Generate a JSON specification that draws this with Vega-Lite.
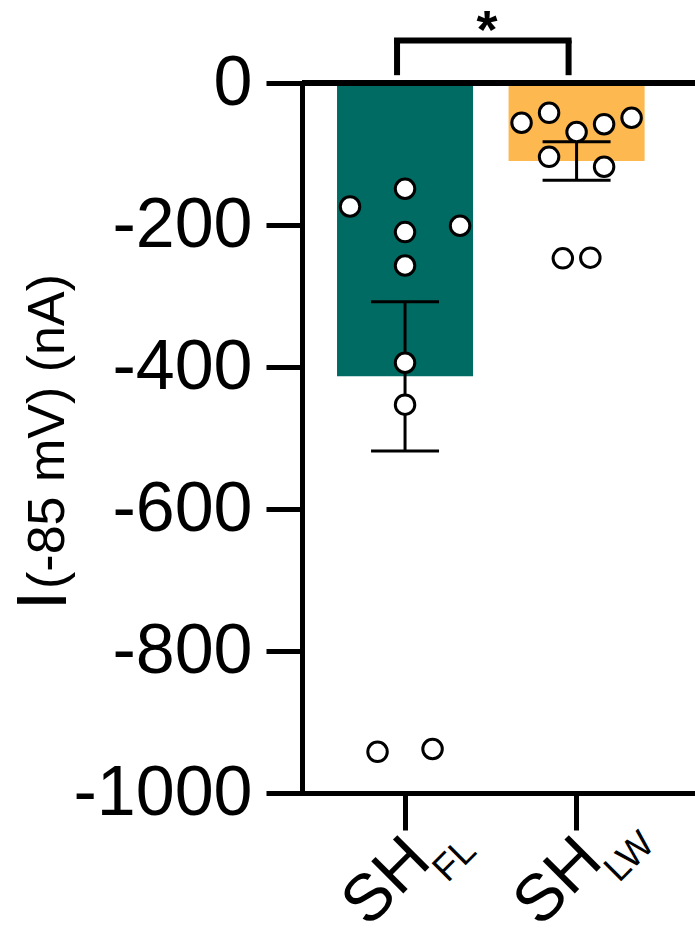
{
  "$schema": "https://vega.github.io/schema/vega-lite/v6.json",
  "width": 393,
  "height": 710,
  "autosize": {"type": "none"},
  "padding": {"left": 302, "top": 83, "right": 0, "bottom": 146},
  "background": "white",
  "datasets": {
    "cells": [
      {"group": "SH_FL", "value": -174, "slot": -2},
      {"group": "SH_FL", "value": -149, "slot": 0},
      {"group": "SH_FL", "value": -210, "slot": 0},
      {"group": "SH_FL", "value": -201, "slot": 2},
      {"group": "SH_FL", "value": -257, "slot": 0},
      {"group": "SH_FL", "value": -394, "slot": 0},
      {"group": "SH_FL", "value": -453, "slot": 0},
      {"group": "SH_FL", "value": -942, "slot": -1},
      {"group": "SH_FL", "value": -938, "slot": 1},
      {"group": "SH_LW", "value": -56, "slot": -2},
      {"group": "SH_LW", "value": -42, "slot": -1},
      {"group": "SH_LW", "value": -69, "slot": 0},
      {"group": "SH_LW", "value": -58, "slot": 1},
      {"group": "SH_LW", "value": -49, "slot": 2},
      {"group": "SH_LW", "value": -104, "slot": -1},
      {"group": "SH_LW", "value": -118, "slot": 1},
      {"group": "SH_LW", "value": -247, "slot": -0.5},
      {"group": "SH_LW", "value": -246, "slot": 0.5}
    ],
    "subs": [
      {"group": "SH_FL", "sub": "FL"},
      {"group": "SH_LW", "sub": "LW"}
    ],
    "notes": [
      {"star": "*", "ylab": "I"}
    ]
  },
  "config": {
    "font": "Liberation Sans",
    "view": {"stroke": null},
    "axis": {
      "grid": false,
      "domainColor": "black",
      "domainWidth": 5,
      "domainCap": "square",
      "tickColor": "black",
      "tickWidth": 5,
      "labelColor": "black",
      "titleColor": "black",
      "labelFont": "Liberation Sans",
      "titleFont": "Liberation Sans",
      "labelLimit": 0
    }
  },
  "resolve": {"scale": {"xOffset": "independent"}},
  "layer": [
    {
      "data": {"name": "cells"},
      "mark": {"type": "bar", "width": {"band": 1}},
      "encoding": {
        "x": {
          "field": "group",
          "type": "nominal",
          "sort": ["SH_FL", "SH_LW"],
          "scale": {"domain": ["SH_FL", "SH_LW"], "paddingInner": 0.207, "paddingOuter": 0.249, "align": 0.41},
          "axis": {
            "title": null,
            "labelExpr": "'SH'",
            "labelAngle": -45,
            "labelAlign": "right",
            "labelBaseline": "middle",
            "labelFontSize": 66,
            "labelPadding": 19,
            "labelOffset": 14,
            "tickSize": 37
          }
        },
        "y": {
          "aggregate": "mean",
          "field": "value",
          "type": "quantitative",
          "scale": {"domain": [-1000, 0], "nice": false, "zero": false},
          "axis": {
            "title": "(-85 mV) (nA)",
            "values": [-1000, -800, -600, -400, -200, 0],
            "labelExpr": "datum.value == 0 ? '0' : '-' + format(-datum.value, 'd')",
            "labelFontSize": 70,
            "tickSize": 36,
            "labelPadding": 14,
            "titleFontSize": 52,
            "titleFontWeight": "normal",
            "titlePadding": 28,
            "titleY": 348
          }
        },
        "color": {
          "field": "group",
          "type": "nominal",
          "scale": {"domain": ["SH_FL", "SH_LW"], "range": ["#006B63", "#FDB94F"]},
          "legend": null
        }
      }
    },
    {
      "data": {"name": "cells"},
      "mark": {"type": "errorbar", "extent": "stderr", "color": "black", "ticks": {"size": 68, "thickness": 3, "color": "black", "opacity": 1}, "rule": {"strokeWidth": 3, "color": "black", "opacity": 1}},
      "encoding": {
        "x": {"field": "group", "type": "nominal", "title": null},
        "y": {"field": "value", "type": "quantitative", "title": "(-85 mV) (nA)"}
      }
    },
    {
      "data": {"name": "cells"},
      "mark": {"type": "rule", "strokeWidth": 6, "color": "black"},
      "encoding": {
        "y": {"datum": 0, "type": "quantitative"}
      }
    },
    {
      "data": {"name": "cells"},
      "mark": {"type": "circle", "size": 380, "color": "white", "opacity": 1, "stroke": "black", "strokeWidth": 3},
      "encoding": {
        "x": {"field": "group", "type": "nominal", "title": null},
        "xOffset": {"field": "slot", "type": "quantitative", "scale": {"domain": [-2.4727, 2.4727]}},
        "y": {"field": "value", "type": "quantitative", "title": "(-85 mV) (nA)"}
      }
    },
    {
      "data": {"name": "notes"},
      "mark": {"type": "rule", "strokeWidth": 6, "color": "black", "strokeCap": "square", "xOffset": -8, "x2Offset": -8},
      "encoding": {
        "x": {"datum": "SH_FL", "type": "nominal"},
        "x2": {"datum": "SH_LW"},
        "y": {"datum": 60, "type": "quantitative"}
      }
    },
    {
      "data": {"name": "subs"},
      "mark": {"type": "rule", "strokeWidth": 6, "color": "black", "xOffset": -8},
      "encoding": {
        "x": {"field": "group", "type": "nominal", "title": null},
        "y": {"datum": 60, "type": "quantitative"},
        "y2": {"datum": 11}
      }
    },
    {
      "data": {"name": "notes"},
      "mark": {"type": "text", "fontSize": 54, "fontWeight": "bold", "color": "black", "dx": 82, "align": "center", "baseline": "alphabetic"},
      "encoding": {
        "x": {"datum": "SH_FL", "type": "nominal"},
        "y": {"datum": 50, "type": "quantitative"},
        "text": {"field": "star"}
      }
    },
    {
      "data": {"name": "subs"},
      "mark": {"type": "text", "angle": 315, "align": "left", "baseline": "alphabetic", "fontSize": 37, "dx": -34, "dy": 94, "color": "black"},
      "encoding": {
        "x": {"field": "group", "type": "nominal", "title": null},
        "y": {"datum": -1000, "type": "quantitative"},
        "text": {"field": "sub"}
      }
    },
    {
      "data": {"name": "notes"},
      "mark": {"type": "text", "angle": 270, "align": "center", "baseline": "alphabetic", "fontSize": 70, "dy": -339, "color": "black"},
      "encoding": {
        "x": {"datum": "SH_FL", "type": "nominal"},
        "y": {"datum": -729, "type": "quantitative"},
        "text": {"field": "ylab"}
      }
    }
  ]
}
